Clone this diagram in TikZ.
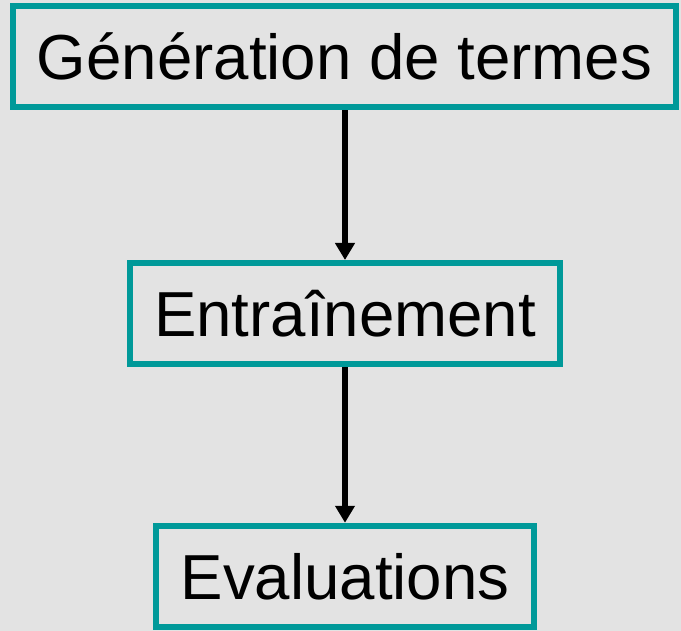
\documentclass[tikz,border=0pt]{standalone}
\usepackage{fontspec}
\setmainfont{Liberation Sans}
\usetikzlibrary{arrows.meta}
\definecolor{bggray}{HTML}{E3E3E3}
\definecolor{tealline}{HTML}{009999}
\begin{document}
\begin{tikzpicture}[x=1pt,y=-1pt,
  stepbox/.style={draw=tealline, line width=6pt, fill=bggray, rectangle,
    minimum height=101.5pt, inner sep=0pt, text height=45.5pt, text depth=0pt,
    font=\fontsize{63.6pt}{70pt}\selectfont},
  flow/.style={line width=5.5pt, -{Triangle[length=17pt,width=19pt]}}]
  % background
  \fill[bggray] (0,0) rectangle (681,631);
  \useasboundingbox (0,0) rectangle (681,631);
  % process steps
  \node[stepbox, minimum width=663pt] (gen) at (344.5,56.75) {Génération de termes};
  \node[stepbox, minimum width=430pt] (train) at (345,313.75) {Entraînement};
  \node[stepbox, minimum width=378pt, minimum height=101.3pt] (eval) at (345,576.4) {Evaluations};
  % connectors
  \draw[flow] (gen.south -| train.north) -- (train.north);
  \draw[flow] (train.south) -- (eval.north);
\end{tikzpicture}
\end{document}
